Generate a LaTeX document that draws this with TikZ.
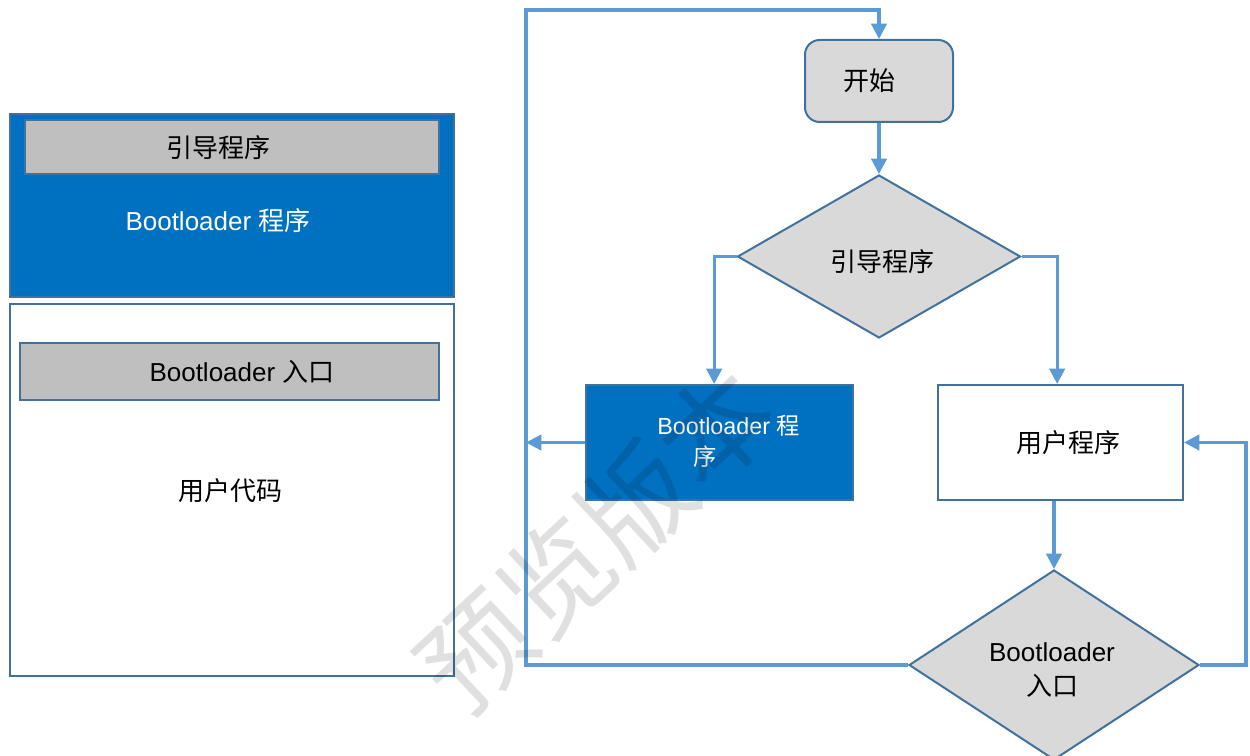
\documentclass[tikz,border=0pt]{standalone}
\usepackage{fontspec}
\setmainfont{Liberation Sans}
\newfontfamily\cjk{Noto Sans CJK SC}
\usetikzlibrary{shapes.geometric,arrows.meta}
\definecolor{bordc}{HTML}{41719C}
\definecolor{linec}{HTML}{5B9BD5}
\definecolor{bluef}{HTML}{0070C0}
\definecolor{grayf}{HTML}{BFBFBF}
\definecolor{lgrayf}{HTML}{D9D9D9}
\tikzset{
  box/.style={draw=bordc, line width=1.5pt, inner sep=0pt},
  txt/.style={font=\fontsize{19.5}{24}\selectfont, inner sep=0pt},
  conn/.style={draw=linec, line width=2.4pt},
  arr/.style={conn, -{Triangle[length=11.5pt,width=11.5pt]}},
}
\begin{document}
\begin{tikzpicture}[x=0.75pt,y=-0.75pt]
\useasboundingbox (0,0) rectangle (1250,756);
% left panel
\node[box, fill=bluef, minimum width=333pt, minimum height=137.25pt] (lblue) at (232,205.5) {};
\node[box, fill=grayf, minimum width=310.5pt, minimum height=40.5pt] (lg1) at (232,147) {};
\node[txt] (t1) at (218,148) {\cjk 引导程序};
\node[txt, text=white] (t2) at (218,221) {Bootloader {\cjk 程序}};
\node[box, fill=white, minimum width=333pt, minimum height=279pt] (lwhite) at (232,490) {};
\node[box, fill=grayf, minimum width=314.25pt, minimum height=42.75pt] (lg2) at (229.5,371.5) {};
\node[txt] (t3) at (242,372) {Bootloader {\cjk 入口}};
\node[txt] (t4) at (230,491) {\cjk 用户代码};
% flowchart
\node[box, fill=lgrayf, rounded corners=11pt, minimum width=111pt, minimum height=61.5pt] (start) at (879,81) {};
\node[txt] (tstart) at (869,81) {\cjk 开始};
\node[box, fill=lgrayf, diamond, minimum width=212.25pt, minimum height=122.25pt] (d1) at (879,256.5) {};
\node[txt] (td1) at (882,262) {\cjk 引导程序};
\node[box, fill=bluef, minimum width=200.25pt, minimum height=86.25pt] (blue2) at (719.5,442.5) {};
\node[font=\fontsize{17.5}{24}\selectfont, text=white, align=left, inner sep=0pt, anchor=north west] (tb2) at (657,415) {Bootloader {\cjk 程}\\[-1pt]\hspace*{27pt}{\cjk 序}};
\node[box, fill=white, minimum width=183.75pt, minimum height=86.25pt] (user) at (1060.5,442.5) {};
\node[txt] (tuser) at (1068,443) {\cjk 用户程序};
\node[box, fill=lgrayf, diamond, minimum width=217.5pt, minimum height=142.5pt] (d2) at (1054,665) {};
\node[txt, align=center] (td2) at (1052,670) {Bootloader\\[2pt]{\cjk 入口}};
% connectors
\coordinate (lb) at (526,665);
\coordinate (lt) at (526,10);
\coordinate (rr) at (1246,665);
\draw[arr] (start.south) -- (d1.north);
\draw[arr] (d1.west) -| ([xshift=-4pt]blue2.north);
\draw[arr] (d1.east) -| ([xshift=-2.5pt]user.north);
\draw[arr] (blue2.west) -- (blue2.west -| lb);
\draw[arr] (user.south -| d2.north) -- (d2.north);
\draw[arr] (d2.west) -- (lb) -- (lt) -| (start.north);
\draw[arr] (d2.east) -- (rr) |- (user.east);
% watermark
\node[font=\fontsize{82}{90}\selectfont\cjk, text=black, opacity=0.12, rotate=43, inner sep=0pt] (wm) at (596,540) {预览版本};
\end{tikzpicture}
\end{document}
